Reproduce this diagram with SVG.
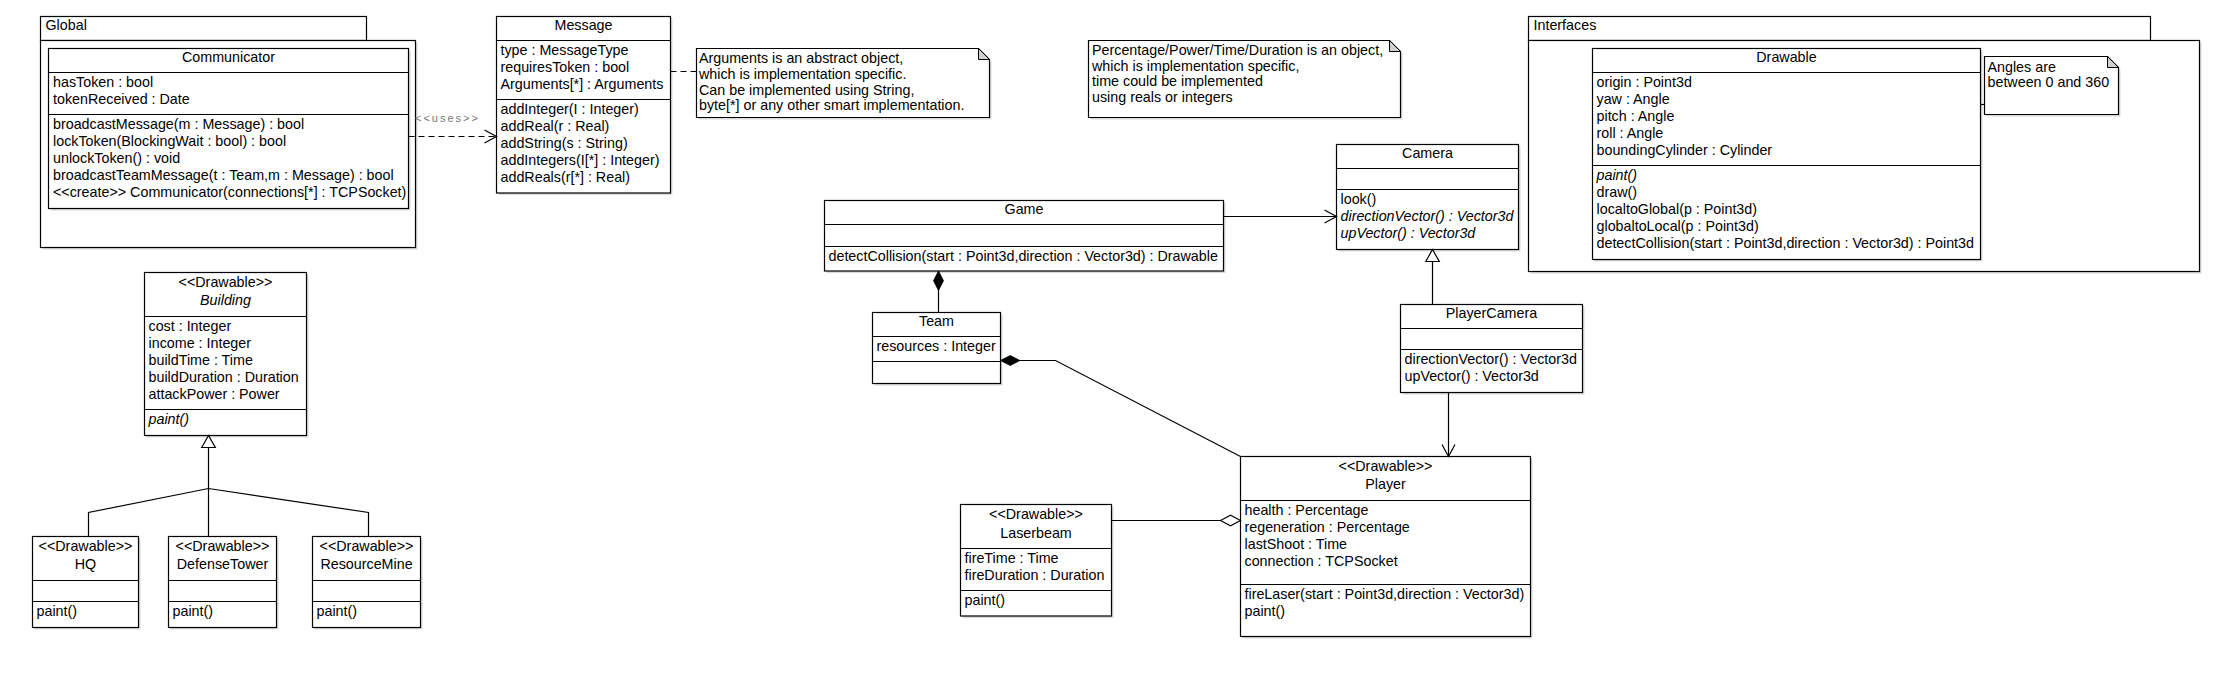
<svg xmlns="http://www.w3.org/2000/svg" width="2232" height="684" viewBox="0 0 2232 684">
<style>
text{font-family:"Liberation Sans",Arial,sans-serif;font-size:14.3px;fill:#000}
.c{text-anchor:middle}
.i{font-style:italic}
.box{fill:#fff;stroke:#000;stroke-width:1.2}
.sh{fill:#d9d9d9}
.dv{stroke:#000;stroke-width:1.2}
.ln{fill:none;stroke:#000;stroke-width:1.2}
.dash{stroke-dasharray:6,4}
.fold{fill:#d0d0d0;stroke:#000;stroke-width:1}
.uses{font-size:11px;letter-spacing:2px;fill:#777}
</style>
<defs>
<marker id="open" viewBox="-1 -1 15 16" refX="12.5" refY="7" markerWidth="15" markerHeight="16" markerUnits="userSpaceOnUse" orient="auto"><path d="M0.5,0.5 L12.5,7 L0.5,13.5" fill="none" stroke="#000" stroke-width="1.2"/></marker>
<marker id="tri" viewBox="-1 -1 16 17" refX="13" refY="7.5" markerWidth="16" markerHeight="17" markerUnits="userSpaceOnUse" orient="auto"><path d="M1,0.7 L13,7.5 L1,14.3 Z" fill="#fff" stroke="#000" stroke-width="1.2"/></marker>
<marker id="dmd" viewBox="-1 -7 23 14" refX="0" refY="0" markerWidth="23" markerHeight="14" markerUnits="userSpaceOnUse" orient="auto"><path d="M0,0 L9.7,-5 L19.4,0 L9.7,5 Z" fill="#000" stroke="#000" stroke-width="0.8"/></marker>
<marker id="hdmd" viewBox="-1 -7 23 14" refX="0" refY="0" markerWidth="23" markerHeight="14" markerUnits="userSpaceOnUse" orient="auto"><path d="M0,0 L10,-5.3 L20,0 L10,5.3 Z" fill="#fff" stroke="#000" stroke-width="1.1"/></marker>
</defs>

<g id="pkg-global">
<rect class="sh" x="42.5" y="42.5" width="375" height="207"/>
<rect class="box" x="40.5" y="16.5" width="326" height="24"/>
<rect class="box" x="40.5" y="40.5" width="375" height="207"/>
<text x="45.5" y="30">Global</text>
</g>

<g id="communicator">
<rect class="sh" x="50.5" y="50.5" width="360" height="160"/>
<rect class="box" x="48.5" y="48.5" width="360" height="160"/>
<line class="dv" x1="48.5" y1="72.5" x2="408.5" y2="72.5"/>
<line class="dv" x1="48.5" y1="114.5" x2="408.5" y2="114.5"/>
<text class="c" x="228.5" y="62">Communicator</text>
<text x="53" y="86.5">hasToken : bool</text>
<text x="53" y="103.5">tokenReceived : Date</text>
<text x="53" y="128.5">broadcastMessage(m : Message) : bool</text>
<text x="53" y="145.5">lockToken(BlockingWait : bool) : bool</text>
<text x="53" y="162.5">unlockToken() : void</text>
<text x="53" y="179.5">broadcastTeamMessage(t : Team,m : Message) : bool</text>
<text x="53" y="196.5">&lt;&lt;create&gt;&gt; Communicator(connections[*] : TCPSocket)</text>
</g>

<g id="message">
<rect class="sh" x="498.5" y="18.5" width="174" height="176.5"/>
<rect class="box" x="496.5" y="16.5" width="174" height="176.5"/>
<line class="dv" x1="496.5" y1="40.5" x2="670.5" y2="40.5"/>
<line class="dv" x1="496.5" y1="99.5" x2="670.5" y2="99.5"/>
<text class="c" x="583.5" y="30">Message</text>
<text x="500.5" y="54.5">type : MessageType</text>
<text x="500.5" y="71.5">requiresToken : bool</text>
<text x="500.5" y="88.5">Arguments[*] : Arguments</text>
<text x="500.5" y="113.5">addInteger(I : Integer)</text>
<text x="500.5" y="130.5">addReal(r : Real)</text>
<text x="500.5" y="147.5">addString(s : String)</text>
<text x="500.5" y="164.5">addIntegers(I[*] : Integer)</text>
<text x="500.5" y="181.5">addReals(r[*] : Real)</text>
</g>

<g id="note-arguments">
<path class="sh" d="M698.5,50.5 H980.5 L991.5,61.5 V119.5 H698.5 Z"/>
<path class="box" d="M696.5,48.5 H978.5 L989.5,59.5 V117.5 H696.5 Z"/>
<path class="fold" d="M978.5,48.5 V59.5 H989.5 Z"/>
<text x="699" y="63.3">Arguments is an abstract object,</text>
<text x="699" y="79">which is implementation specific.</text>
<text x="699" y="94.5">Can be implemented using String,</text>
<text x="699" y="110">byte[*] or any other smart implementation.</text>
</g>

<g id="note-percentage">
<path class="sh" d="M1090.5,42.5 H1391.5 L1402.5,53.5 V119.5 H1090.5 Z"/>
<path class="box" d="M1088.5,40.5 H1389.5 L1400.5,51.5 V117.5 H1088.5 Z"/>
<path class="fold" d="M1389.5,40.5 V51.5 H1400.5 Z"/>
<text x="1092" y="55">Percentage/Power/Time/Duration is an object,</text>
<text x="1092" y="70.7">which is implementation specific,</text>
<text x="1092" y="86.3">time could be implemented</text>
<text x="1092" y="102.3">using reals or integers</text>
</g>

<g id="pkg-interfaces">
<rect class="sh" x="1530.5" y="42.5" width="671" height="231"/>
<rect class="box" x="1528.5" y="16.5" width="622" height="24"/>
<rect class="box" x="1528.5" y="40.5" width="671" height="231"/>
<text x="1533.5" y="30">Interfaces</text>
</g>

<g id="drawable">
<rect class="sh" x="1594.5" y="50.5" width="388" height="211"/>
<rect class="box" x="1592.5" y="48.5" width="388" height="211"/>
<line class="dv" x1="1592.5" y1="72.5" x2="1980.5" y2="72.5"/>
<line class="dv" x1="1592.5" y1="165.5" x2="1980.5" y2="165.5"/>
<text class="c" x="1786.5" y="62">Drawable</text>
<text x="1596.5" y="86.5">origin : Point3d</text>
<text x="1596.5" y="103.5">yaw : Angle</text>
<text x="1596.5" y="120.5">pitch : Angle</text>
<text x="1596.5" y="137.5">roll : Angle</text>
<text x="1596.5" y="154.5">boundingCylinder : Cylinder</text>
<text class="i" x="1596.5" y="179.5">paint()</text>
<text x="1596.5" y="196.5">draw()</text>
<text x="1596.5" y="213.5">localtoGlobal(p : Point3d)</text>
<text x="1596.5" y="230.5">globaltoLocal(p : Point3d)</text>
<text x="1596.5" y="247.5">detectCollision(start : Point3d,direction : Vector3d) : Point3d</text>
</g>

<g id="note-angles">
<path class="sh" d="M1986.5,58.5 H2109.5 L2120.5,69.5 V116.5 H1986.5 Z"/>
<path class="box" d="M1984.5,56.5 H2107.5 L2118.5,67.5 V114.5 H1984.5 Z"/>
<path class="fold" d="M2107.5,56.5 V67.5 H2118.5 Z"/>
<text x="1987.5" y="71.7">Angles are</text>
<text x="1987.5" y="87.3">between 0 and 360</text>
</g>

<g id="camera">
<rect class="sh" x="1338.5" y="146.5" width="182" height="105"/>
<rect class="box" x="1336.5" y="144.5" width="182" height="105"/>
<line class="dv" x1="1336.5" y1="168.5" x2="1518.5" y2="168.5"/>
<line class="dv" x1="1336.5" y1="189.5" x2="1518.5" y2="189.5"/>
<text class="c" x="1427.5" y="158">Camera</text>
<text x="1340.5" y="203.5">look()</text>
<text class="i" x="1340.5" y="220.5">directionVector() : Vector3d</text>
<text class="i" x="1340.5" y="237.5">upVector() : Vector3d</text>
</g>

<g id="game">
<rect class="sh" x="826.5" y="202.5" width="399" height="70.5"/>
<rect class="box" x="824.5" y="200.5" width="399" height="70.5"/>
<line class="dv" x1="824.5" y1="224.5" x2="1223.5" y2="224.5"/>
<line class="dv" x1="824.5" y1="246.5" x2="1223.5" y2="246.5"/>
<text class="c" x="1024" y="214">Game</text>
<text x="828.5" y="260.5">detectCollision(start : Point3d,direction : Vector3d) : Drawable</text>
</g>

<g id="team">
<rect class="sh" x="874.5" y="314.5" width="128" height="71"/>
<rect class="box" x="872.5" y="312.5" width="128" height="71"/>
<line class="dv" x1="872.5" y1="336.5" x2="1000.5" y2="336.5"/>
<line class="dv" x1="872.5" y1="361.5" x2="1000.5" y2="361.5"/>
<text class="c" x="936.5" y="326">Team</text>
<text x="876.5" y="350.5">resources : Integer</text>
</g>

<g id="playercamera">
<rect class="sh" x="1402.5" y="306.5" width="182" height="88"/>
<rect class="box" x="1400.5" y="304.5" width="182" height="88"/>
<line class="dv" x1="1400.5" y1="328.5" x2="1582.5" y2="328.5"/>
<line class="dv" x1="1400.5" y1="349.5" x2="1582.5" y2="349.5"/>
<text class="c" x="1491.5" y="318">PlayerCamera</text>
<text x="1404.5" y="363.5">directionVector() : Vector3d</text>
<text x="1404.5" y="380.5">upVector() : Vector3d</text>
</g>

<g id="player">
<rect class="sh" x="1242.5" y="458.5" width="290" height="180"/>
<rect class="box" x="1240.5" y="456.5" width="290" height="180"/>
<line class="dv" x1="1240.5" y1="500.5" x2="1530.5" y2="500.5"/>
<line class="dv" x1="1240.5" y1="584.5" x2="1530.5" y2="584.5"/>
<text class="c" x="1385.5" y="470.7">&lt;&lt;Drawable&gt;&gt;</text>
<text class="c" x="1385.5" y="489.3">Player</text>
<text x="1244.5" y="514.5">health : Percentage</text>
<text x="1244.5" y="531.5">regeneration : Percentage</text>
<text x="1244.5" y="548.5">lastShoot : Time</text>
<text x="1244.5" y="565.5">connection : TCPSocket</text>
<text x="1244.5" y="598.5">fireLaser(start : Point3d,direction : Vector3d)</text>
<text x="1244.5" y="615.5">paint()</text>
</g>

<g id="laserbeam">
<rect class="sh" x="962.5" y="506.5" width="151" height="111.5"/>
<rect class="box" x="960.5" y="504.5" width="151" height="111.5"/>
<line class="dv" x1="960.5" y1="548.5" x2="1111.5" y2="548.5"/>
<line class="dv" x1="960.5" y1="590.5" x2="1111.5" y2="590.5"/>
<text class="c" x="1036" y="518.7">&lt;&lt;Drawable&gt;&gt;</text>
<text class="c" x="1036" y="537.5">Laserbeam</text>
<text x="964.5" y="562.5">fireTime : Time</text>
<text x="964.5" y="579.5">fireDuration : Duration</text>
<text x="964.5" y="604.5">paint()</text>
</g>

<g id="building">
<rect class="sh" x="146.5" y="274.5" width="162" height="163"/>
<rect class="box" x="144.5" y="272.5" width="162" height="163"/>
<line class="dv" x1="144.5" y1="316.5" x2="306.5" y2="316.5"/>
<line class="dv" x1="144.5" y1="409.5" x2="306.5" y2="409.5"/>
<text class="c" x="225.5" y="286.7">&lt;&lt;Drawable&gt;&gt;</text>
<text class="c i" x="225.5" y="305.3">Building</text>
<text x="148.5" y="330.5">cost : Integer</text>
<text x="148.5" y="347.5">income : Integer</text>
<text x="148.5" y="364.5">buildTime : Time</text>
<text x="148.5" y="381.5">buildDuration : Duration</text>
<text x="148.5" y="398.5">attackPower : Power</text>
<text class="i" x="148.5" y="423.5">paint()</text>
</g>

<g id="hq">
<rect class="sh" x="34.5" y="538.5" width="106" height="91"/>
<rect class="box" x="32.5" y="536.5" width="106" height="91"/>
<line class="dv" x1="32.5" y1="580.5" x2="138.5" y2="580.5"/>
<line class="dv" x1="32.5" y1="601.5" x2="138.5" y2="601.5"/>
<text class="c" x="85.5" y="550.7">&lt;&lt;Drawable&gt;&gt;</text>
<text class="c" x="85.5" y="569.3">HQ</text>
<text x="36.5" y="615.5">paint()</text>
</g>

<g id="defensetower">
<rect class="sh" x="170.5" y="538.5" width="108" height="91"/>
<rect class="box" x="168.5" y="536.5" width="108" height="91"/>
<line class="dv" x1="168.5" y1="580.5" x2="276.5" y2="580.5"/>
<line class="dv" x1="168.5" y1="601.5" x2="276.5" y2="601.5"/>
<text class="c" x="222.5" y="550.7">&lt;&lt;Drawable&gt;&gt;</text>
<text class="c" x="222.5" y="569.3">DefenseTower</text>
<text x="172.5" y="615.5">paint()</text>
</g>

<g id="resourcemine">
<rect class="sh" x="314.5" y="538.5" width="108" height="91"/>
<rect class="box" x="312.5" y="536.5" width="108" height="91"/>
<line class="dv" x1="312.5" y1="580.5" x2="420.5" y2="580.5"/>
<line class="dv" x1="312.5" y1="601.5" x2="420.5" y2="601.5"/>
<text class="c" x="366.5" y="550.7">&lt;&lt;Drawable&gt;&gt;</text>
<text class="c" x="366.5" y="569.3">ResourceMine</text>
<text x="316.5" y="615.5">paint()</text>
</g>

<g id="connectors">
<path class="ln dash" d="M408.5,136.5 H496.5" marker-end="url(#open)"/>
<text class="uses" x="415" y="121.7">&lt;&lt;uses&gt;&gt;</text>
<path class="ln dash" d="M670.5,71.5 H696.5"/>
<path class="ln" d="M1980.5,104.5 H1984.5"/>
<path class="ln" d="M1223.5,216.5 H1336.5" marker-end="url(#open)"/>
<path class="ln" d="M1432.5,304.5 V249.5" marker-end="url(#tri)"/>
<path class="ln" d="M938.5,271 V312.5" marker-start="url(#dmd)"/>
<path class="ln" d="M1000.5,360.5 H1055.5 L1240.5,456.5" marker-start="url(#dmd)"/>
<path class="ln" d="M1240.5,520.5 H1111.5" marker-start="url(#hdmd)"/>
<path class="ln" d="M1448.5,392.5 V456.5" marker-end="url(#open)"/>
<path class="ln" d="M208.5,536.5 V435.5" marker-end="url(#tri)"/>
<path class="ln" d="M88.5,536.5 V512.5 L208.5,488.5 L368.5,512.5 V536.5"/>
</g>
</svg>
